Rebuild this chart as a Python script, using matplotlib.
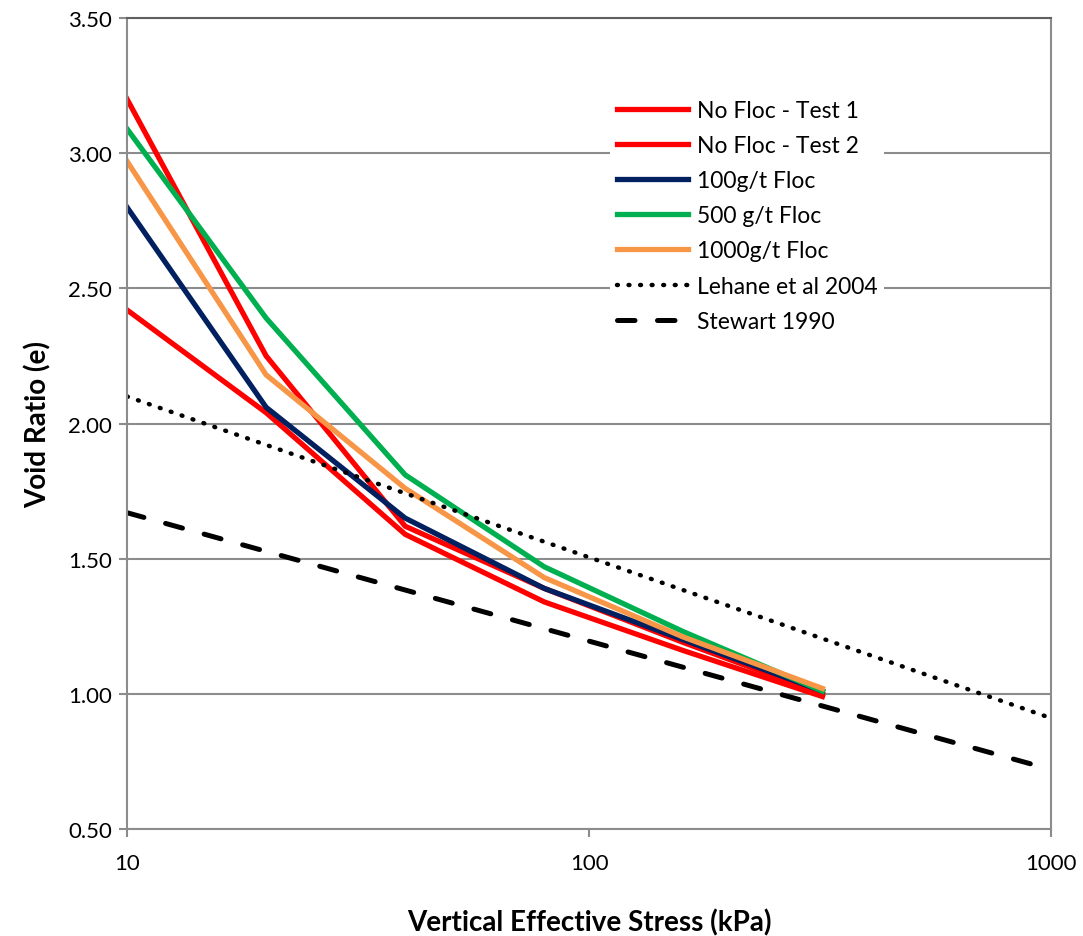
import numpy as np
import matplotlib.pyplot as plt
from matplotlib.ticker import FixedLocator, FixedFormatter, NullLocator

plt.rcParams["font.family"] = ["Lato", "DejaVu Sans"]

# data
stress = [10, 20, 40, 80, 160, 320]
no_floc_1 = [3.20, 2.25, 1.62, 1.39, 1.19, 1.00]
no_floc_2 = [2.42, 2.04, 1.59, 1.34, 1.16, 0.99]
floc_100 = [2.80, 2.06, 1.65, 1.39, 1.20, 1.01]
floc_500 = [3.09, 2.39, 1.81, 1.47, 1.23, 1.01]
floc_1000 = [2.97, 2.18, 1.76, 1.43, 1.21, 1.02]

ref_stress = [10, 1000]
lehane = [2.10, 0.91]
stewart = [1.67, 0.72]

y_ticks = [0.5, 1.0, 1.5, 2.0, 2.5, 3.0, 3.5]
x_ticks = [10, 100, 1000]

fig = plt.figure(figsize=(10.83, 9.37), dpi=100)
ax = fig.add_axes([0.1173, 0.1142, 0.8532, 0.8655])

lw = 3.8
ax.plot(stress, no_floc_1, color="#ff0000", lw=lw, label="No Floc - Test 1")
ax.plot(stress, no_floc_2, color="#ff0000", lw=lw, label="No Floc - Test 2")
ax.plot(stress, floc_100, color="#002060", lw=lw, label="100g/t Floc")
ax.plot(stress, floc_500, color="#00b050", lw=lw, label="500 g/t Floc")
ax.plot(stress, floc_1000, color="#f79646", lw=lw, label="1000g/t Floc")
ax.plot(ref_stress, lehane, color="black", lw=3.2, ls=(0, (0.2, 2.4)),
        dash_capstyle="round", label="Lehane et al 2004")
ax.plot(ref_stress, stewart, color="black", lw=3.6, ls=(0, (3.5, 4.5)),
        dash_capstyle="round", label="Stewart 1990")

ax.set_xscale("log")
ax.set_xlim(10, 1000)
ax.set_ylim(0.5, 3.5)
ax.xaxis.set_major_locator(FixedLocator(x_ticks))
ax.xaxis.set_major_formatter(FixedFormatter([str(t) for t in x_ticks]))
ax.xaxis.set_minor_locator(NullLocator())
ax.set_yticks(y_ticks)
ax.set_yticklabels(["%.2f" % t for t in y_ticks])

ax.grid(axis="y", color="#8c8c8c", lw=1.5)
ax.set_axisbelow(True)
for side in ["left", "right", "bottom"]:
    ax.spines[side].set_color("#8c8c8c")
    ax.spines[side].set_linewidth(1.5)
ax.spines["top"].set_color("#606060")
ax.spines["top"].set_linewidth(1.5)

ax.tick_params(axis="both", direction="out", length=6, width=1.5,
               color="#8c8c8c", labelsize=16, labelcolor="black")
ax.tick_params(axis="x", pad=11)
ax.tick_params(axis="y", pad=5)

ax.set_xlabel("Vertical Effective Stress (kPa)", fontsize=20,
              fontweight="bold", labelpad=26)
ax.set_ylabel("Void Ratio (e)", fontsize=20, fontweight="bold", labelpad=12)

leg = ax.legend(loc="upper left", bbox_to_anchor=(0.51, 0.922), fontsize=16.5,
                frameon=True, facecolor="white", edgecolor="none",
                framealpha=1, fancybox=False, handlelength=3.1,
                handletextpad=0.4, labelspacing=0.62, borderpad=0.3)

fig.savefig("out.png", dpi=100)
